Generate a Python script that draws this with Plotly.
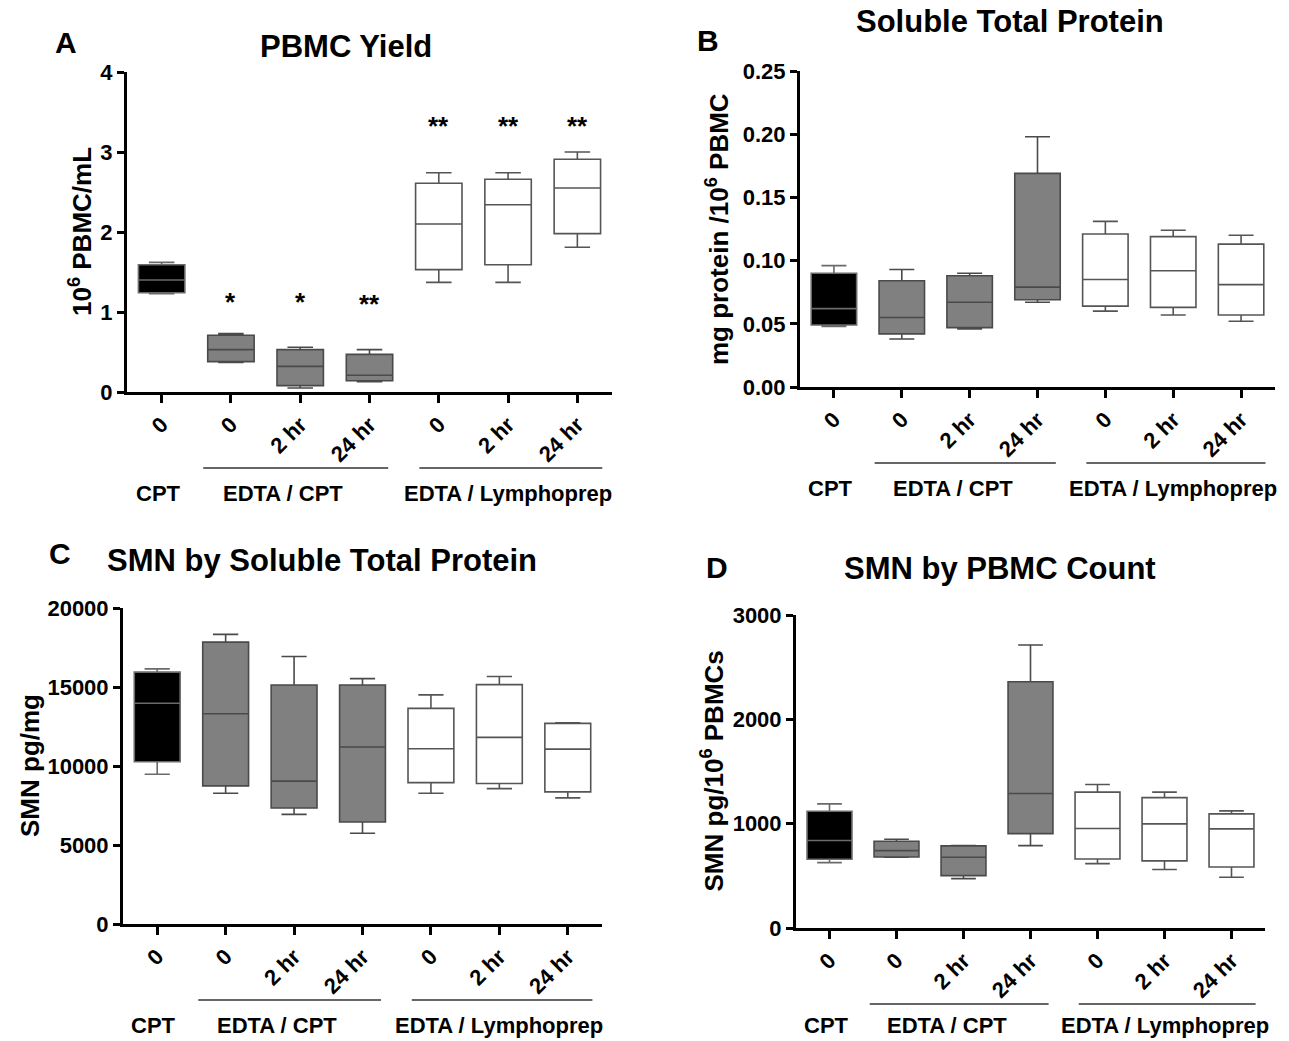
import plotly.graph_objects as go

W, H = 1289, 1041

categories = ['0', '0', '2 hr', '24 hr', '0', '2 hr', '24 hr']
groups = ['CPT', 'EDTA / CPT', 'EDTA / Lymphoprep']
group_of = [0, 1, 1, 1, 2, 2, 2]

# Panel A: PBMC Yield (10^6 PBMC/mL)
a_low = [1.23, 0.37, 0.05, 0.13, 1.37, 1.37, 1.81]
a_q1 = [1.24, 0.38, 0.08, 0.14, 1.53, 1.59, 1.98]
a_med = [1.40, 0.53, 0.32, 0.21, 2.10, 2.34, 2.55]
a_q3 = [1.59, 0.71, 0.53, 0.47, 2.61, 2.66, 2.91]
a_high = [1.62, 0.73, 0.56, 0.53, 2.74, 2.74, 3.00]
a_stars = ['', '*', '*', '**', '**', '**', '**']
a_star_y = [None, 1.13, 1.13, 1.10, 3.32, 3.32, 3.32]

# Panel B: Soluble Total Protein (mg protein / 10^6 PBMC)
b_low = [0.048, 0.038, 0.046, 0.067, 0.060, 0.057, 0.052]
b_q1 = [0.049, 0.042, 0.047, 0.069, 0.064, 0.063, 0.057]
b_med = [0.062, 0.055, 0.067, 0.079, 0.085, 0.092, 0.081]
b_q3 = [0.090, 0.084, 0.088, 0.169, 0.121, 0.119, 0.113]
b_high = [0.096, 0.093, 0.090, 0.198, 0.131, 0.124, 0.120]

# Panel C: SMN by Soluble Total Protein (pg/mg)
c_low = [9480, 8280, 6940, 5740, 8280, 8570, 7980]
c_q1 = [10270, 8740, 7340, 6460, 8950, 8890, 8360]
c_med = [13970, 13310, 9040, 11200, 11090, 11810, 11070]
c_q3 = [15940, 17840, 15130, 15130, 13650, 15150, 12700]
c_high = [16150, 18330, 16930, 15530, 14500, 15660, 12740]

# Panel D: SMN by PBMC Count (pg / 10^6 PBMCs)
d_low = [627, 678, 473, 790, 617, 560, 486]
d_q1 = [659, 680, 502, 905, 662, 643, 585]
d_med = [838, 742, 678, 1289, 953, 998, 950]
d_q3 = [1119, 832, 787, 2360, 1302, 1250, 1094]
d_high = [1190, 851, 790, 2712, 1375, 1302, 1123]

fills = ['#000000', '#808080', '#ffffff']
lines = ['#6a6a6a', '#4a4a4a', '#555555']

FONT = 'Liberation Sans'


def px(x):
    return x / W


def py(y):
    return 1 - y / H


panels = [
    dict(name='A', title='PBMC Yield', ytitle='10<sup>6</sup> PBMC/mL',
         data=(a_low, a_q1, a_med, a_q3, a_high), yrange=[0, 4], dtick=1, fmt='d',
         box=(127, 612, 72, 392), title_pos=(346, 46), letter_pos=(66, 43),
         ytitle_x=80, label_off=102),
    dict(name='B', title='Soluble Total Protein', ytitle='mg protein /10<sup>6</sup> PBMC',
         data=(b_low, b_q1, b_med, b_q3, b_high), yrange=[0, 0.25], dtick=0.05, fmt='.2f',
         box=(800, 1275, 71, 387), title_pos=(1010, 22), letter_pos=(708, 40),
         ytitle_x=717, label_off=101),
    dict(name='C', title='SMN by Soluble Total Protein', ytitle='SMN pg/mg',
         data=(c_low, c_q1, c_med, c_q3, c_high), yrange=[0, 20000], dtick=5000, fmt='d',
         box=(123, 602, 608, 924), title_pos=(322, 560), letter_pos=(60, 553),
         ytitle_x=30, label_off=101),
    dict(name='D', title='SMN by PBMC Count', ytitle='SMN pg/10<sup>6</sup> PBMCs',
         data=(d_low, d_q1, d_med, d_q3, d_high), yrange=[0, 3000], dtick=1000, fmt='d',
         box=(796, 1265, 615, 928), title_pos=(1000, 568), letter_pos=(717, 567),
         ytitle_x=713, label_off=97),
]

fig = go.Figure()
layout = dict(
    width=W, height=H, autosize=False,
    margin=dict(l=0, r=0, t=0, b=0, pad=0),
    paper_bgcolor='white', plot_bgcolor='white',
    font=dict(family=FONT, color='black', size=20, weight='bold'),
    showlegend=False,
    boxmode='overlay',
)
annotations = []
shapes = []

for k, p in enumerate(panels):
    idx = '' if k == 0 else str(k + 1)
    xa, ya = 'x' + idx, 'y' + idx
    x0, x1, y0, y1 = p['box']
    low, q1, med, q3, high = p['data']
    for i in range(len(categories)):
        g = group_of[i]
        fig.add_trace(go.Box(
            x=[i], q1=[q1[i]], median=[med[i]], q3=[q3[i]],
            lowerfence=[low[i]], upperfence=[high[i]],
            width=0.67, whiskerwidth=0.55,
            fillcolor=fills[g], line=dict(color=lines[g], width=1.6),
            boxpoints=False, hoverinfo='skip',
            xaxis=xa, yaxis=ya, showlegend=False,
        ))
    layout['xaxis' + idx] = dict(
        domain=[px(x0), px(x1)], anchor=ya, range=[-0.5, 6.5],
        tickmode='array', tickvals=list(range(len(categories))), ticktext=categories,
        tickangle=-45, ticks='outside', ticklen=8, tickwidth=2.5, tickcolor='black',
        showline=True, linewidth=3, linecolor='black', showgrid=False, zeroline=False,
        automargin=False,
        tickfont=dict(size=22, family=FONT, weight='bold'),
    )
    layout['yaxis' + idx] = dict(
        domain=[py(y1), py(y0)], anchor=xa, range=p['yrange'],
        dtick=p['dtick'], tick0=0, tickformat=p['fmt'],
        ticks='outside', ticklen=7, tickwidth=2.5, tickcolor='black',
        showline=True, linewidth=3, linecolor='black', showgrid=False, zeroline=False,
        automargin=False,
        tickfont=dict(size=22, family=FONT, weight='bold'),
    )
    annotations.append(dict(
        text=p['title'], xref='paper', yref='paper',
        x=px(p['title_pos'][0]), y=py(p['title_pos'][1]),
        xanchor='center', yanchor='middle', showarrow=False,
        font=dict(size=31, family=FONT, weight='bold')))
    annotations.append(dict(
        text=p['name'], xref='paper', yref='paper',
        x=px(p['letter_pos'][0]), y=py(p['letter_pos'][1]),
        xanchor='center', yanchor='middle', showarrow=False,
        font=dict(size=30, family=FONT, weight='bold')))
    annotations.append(dict(
        text=p['ytitle'], xref='paper', yref='paper', textangle=-90,
        x=px(p['ytitle_x']), y=py((y0 + y1) / 2),
        xanchor='center', yanchor='middle', showarrow=False,
        font=dict(size=26, family=FONT, weight='bold')))
    line_y = py(y1 + 76)
    label_y = py(y1 + p['label_off'])
    for gx0, gx1 in [(0.6, 3.27), (3.72, 6.36)]:
        shapes.append(dict(type='line', xref=xa, yref='paper',
                           x0=gx0, x1=gx1, y0=line_y, y1=line_y,
                           line=dict(color='#333333', width=1.5)))
    for gname, gxc in zip(groups, [-0.05, 1.75, 5.0]):
        annotations.append(dict(
            text=gname, xref=xa, yref='paper', x=gxc, y=label_y,
            xanchor='center', yanchor='middle', showarrow=False,
            font=dict(size=22, family=FONT, weight='bold')))

for i, (s, sy) in enumerate(zip(a_stars, a_star_y)):
    if s:
        annotations.append(dict(
            text=s, xref='x', yref='y', x=i, y=sy,
            xanchor='center', yanchor='middle', showarrow=False,
            font=dict(size=26, family=FONT, weight='bold')))

layout['annotations'] = annotations
layout['shapes'] = shapes
fig.update_layout(**layout)
fig.write_html(
    "out.html",
    config={'displayModeBar': False},
    post_script=(
        "document.documentElement.style.margin='0';"
        "document.body.style.margin='0';"
        "document.body.style.padding='0';"
        "document.body.style.overflow='hidden';"
    ),
)
